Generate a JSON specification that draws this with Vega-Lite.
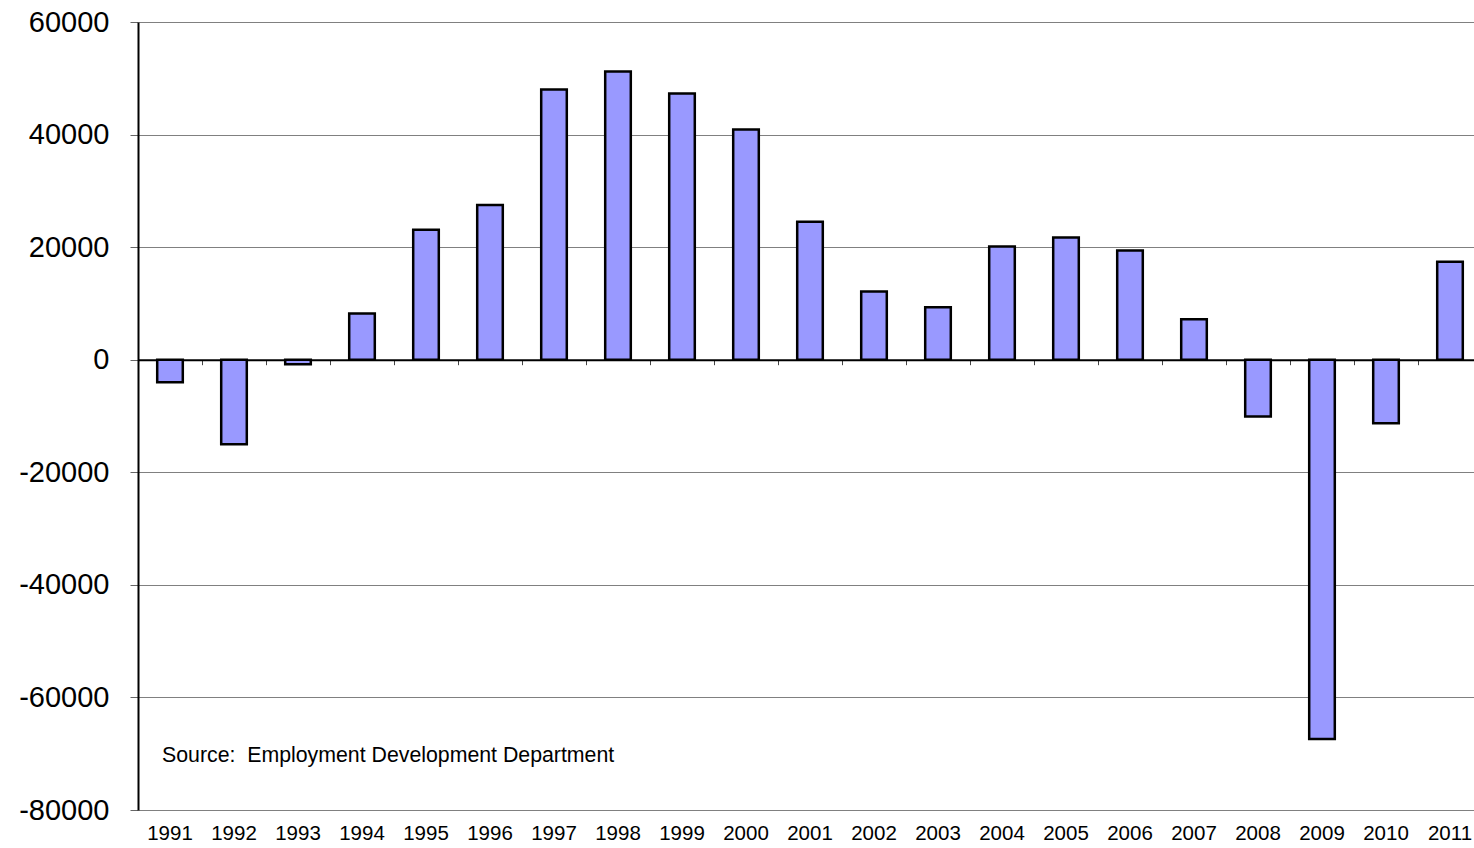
{
  "$schema": "https://vega.github.io/schema/vega-lite/v6.json",
  "width": 1344,
  "height": 788,
  "autosize": {"type": "none"},
  "padding": {"left": 138, "top": 22, "right": -8, "bottom": 38},
  "background": "white",
  "config": {
    "view": {"stroke": null},
    "font": "Liberation Sans"
  },
  "data": {
    "values": [
      {"year": "1991", "change": -4000},
      {"year": "1992", "change": -15000},
      {"year": "1993", "change": -800},
      {"year": "1994", "change": 8200},
      {"year": "1995", "change": 23100},
      {"year": "1996", "change": 27500},
      {"year": "1997", "change": 48000},
      {"year": "1998", "change": 51200},
      {"year": "1999", "change": 47300},
      {"year": "2000", "change": 40900},
      {"year": "2001", "change": 24500},
      {"year": "2002", "change": 12100},
      {"year": "2003", "change": 9300},
      {"year": "2004", "change": 20100},
      {"year": "2005", "change": 21700},
      {"year": "2006", "change": 19400},
      {"year": "2007", "change": 7200},
      {"year": "2008", "change": -10100},
      {"year": "2009", "change": -67400},
      {"year": "2010", "change": -11300},
      {"year": "2011", "change": 17400}
    ]
  },
  "resolve": {"axis": {"x": "independent"}},
  "layer": [
    {
      "mark": {"type": "tick", "opacity": 0},
      "encoding": {
        "x": {
          "field": "year", "type": "nominal", "sort": null,
          "scale": {"paddingInner": 0.6, "paddingOuter": 0.3},
          "axis": {
            "orient": "bottom", "offset": -450.3, "title": null,
            "labels": false, "grid": false,
            "ticks": true, "tickSize": 5, "tickColor": "#444", "tickWidth": 1,
            "tickOffset": -32,
            "domain": true, "domainColor": "black", "domainWidth": 2
          }
        },
        "y": {"datum": 0}
      }
    },
    {
      "mark": {"type": "bar", "fill": "#9999FF", "stroke": "black", "strokeWidth": 2.5},
      "encoding": {
        "x": {
          "field": "year", "type": "nominal", "sort": null,
          "scale": {"paddingInner": 0.6, "paddingOuter": 0.3},
          "axis": {
            "orient": "bottom", "title": null, "labelAngle": 0,
            "labelFontSize": 20.5, "labelColor": "black", "labelPadding": 13,
            "ticks": false, "domain": false, "grid": false
          }
        },
        "y": {
          "field": "change", "type": "quantitative",
          "scale": {"domain": [-80000, 60000], "nice": false, "zero": false},
          "axis": {
            "title": null, "values": [-80000, -60000, -40000, -20000, 0, 20000, 40000, 60000],
            "labelExpr": "toString(datum.value)",
            "labelFontSize": 29, "labelColor": "black", "labelPadding": 21,
            "tickSize": 8, "tickColor": "#666", "tickWidth": 1,
            "domainColor": "black", "domainWidth": 2,
            "grid": true, "gridColor": "#808080", "gridWidth": 1.2
          }
        }
      }
    },
    {
      "data": {"values": [{"note": "Source:\u00a0 Employment Development Department"}]},
      "mark": {"type": "text", "align": "left", "baseline": "middle", "fontSize": 21.3, "dx": -8, "color": "black"},
      "encoding": {
        "x": {"datum": "1991", "type": "nominal", "axis": null},
        "y": {"datum": -70400, "type": "quantitative"},
        "text": {"field": "note"}
      }
    }
  ]
}
